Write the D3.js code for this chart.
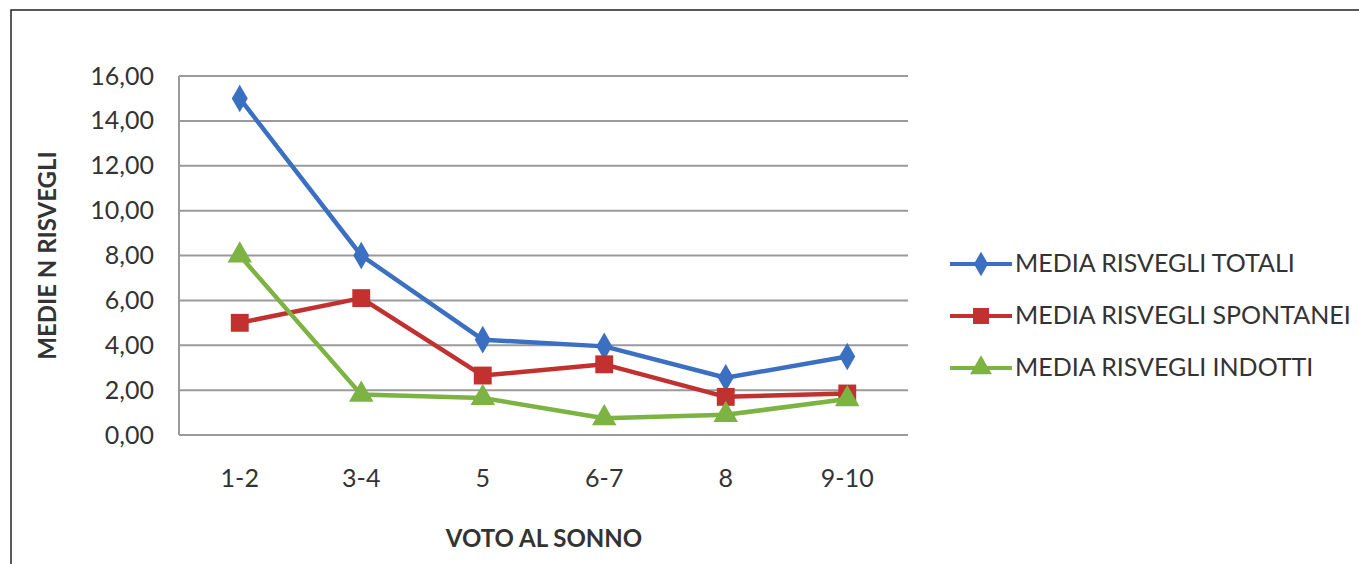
<!DOCTYPE html>
<html><head><meta charset="utf-8">
<script src="https://cdn.jsdelivr.net/npm/d3@7"></script>
<style>body{margin:0;background:#fff}svg{display:block}</style>
</head><body>
<svg id="c" width="1359" height="564"></svg>
<script>
const categories = ["1-2","3-4","5","6-7","8","9-10"];
const totali = [15.0, 8.0, 4.25, 3.95, 2.55, 3.5];
const spontanei = [5.0, 6.1, 2.65, 3.15, 1.7, 1.85];
const indotti = [8.0, 1.8, 1.65, 0.75, 0.9, 1.6];
const yTicks = [0,2,4,6,8,10,12,14,16];
const seriesNames = ["MEDIA RISVEGLI TOTALI","MEDIA RISVEGLI SPONTANEI","MEDIA RISVEGLI INDOTTI"];
const seriesColors = ["#3a6fc2","#c0312f","#7cb342"];
const seriesSymbols = [d3.symbolDiamond, d3.symbolSquare, d3.symbolTriangle];
const yTitle = "MEDIE N RISVEGLI";
const xTitle = "VOTO AL SONNO";

const font = "Lato, 'Open Sans', sans-serif";
const svg = d3.select("#c");
svg.append("rect").attr("x",11).attr("y",10).attr("width",1400).attr("height",600)
  .attr("fill","#fff").attr("stroke","#222").attr("stroke-width",1.5);

const L=179, R=908, T=76, B=435;
const x = d3.scaleBand().domain(categories).range([L,R]);
const y = d3.scaleLinear().domain([0,16]).range([B,T]);

// grid
svg.append("g").selectAll("line").data(yTicks).join("line")
  .attr("x1",L).attr("x2",R).attr("y1",d=>y(d)).attr("y2",d=>y(d))
  .attr("stroke","#9a9a9a").attr("stroke-width",2);
svg.append("line").attr("x1",L).attr("x2",L).attr("y1",T).attr("y2",B)
  .attr("stroke","#9a9a9a").attr("stroke-width",2);

const fmt = d => d3.format(".2f")(d).replace(".",",");
const yAxis = svg.append("g").attr("transform",`translate(${L},0)`)
  .call(d3.axisLeft(y).tickValues(yTicks).tickFormat(fmt).tickSize(0).tickPadding(25));
yAxis.select(".domain").remove();
yAxis.selectAll("text").attr("font-family",font).attr("font-size",25).attr("fill","#333");

const xAxis = svg.append("g").attr("transform",`translate(0,${B})`)
  .call(d3.axisBottom(x).tickSize(0).tickPadding(34));
xAxis.select(".domain").remove();
xAxis.selectAll("text").attr("font-family",font).attr("font-size",25).attr("fill","#333");

svg.append("text").attr("transform",`translate(56,${(T+B)/2}) rotate(-90)`)
  .attr("text-anchor","middle").attr("font-family",font).attr("font-weight","bold")
  .attr("font-size",24).attr("fill","#333").text(yTitle);
svg.append("text").attr("x",544).attr("y",547).attr("text-anchor","middle")
  .attr("font-family",font).attr("font-weight","bold").attr("font-size",24)
  .attr("fill","#333").text(xTitle);

const data = [totali, spontanei, indotti];
const line = d3.line().x((d,i)=>x(categories[i])+x.bandwidth()/2).y(d=>y(d));
const sizes = [220, 320, 260];
data.forEach((vals,k)=>{
  const g = svg.append("g");
  g.append("path").attr("d",line(vals)).attr("fill","none")
    .attr("stroke",seriesColors[k]).attr("stroke-width",4.5).attr("stroke-linejoin","round");
  g.selectAll("path.m").data(vals).join("path").attr("class","m")
    .attr("transform",(d,i)=>`translate(${x(categories[i])+x.bandwidth()/2},${y(d)})`)
    .attr("d",d3.symbol().type(seriesSymbols[k]).size(sizes[k]))
    .attr("fill",seriesColors[k]);
});

// legend
const lg = svg.append("g");
seriesNames.forEach((n,k)=>{
  const yy = 264 + k*52;
  lg.append("line").attr("x1",950).attr("x2",1012).attr("y1",yy).attr("y2",yy)
    .attr("stroke",seriesColors[k]).attr("stroke-width",4);
  lg.append("path").attr("transform",`translate(981,${yy})`)
    .attr("d",d3.symbol().type(seriesSymbols[k]).size(sizes[k]*0.8)).attr("fill",seriesColors[k]);
  lg.append("text").attr("x",1015).attr("y",yy+8).attr("font-family",font)
    .attr("font-size",25).attr("fill","#333").text(n);
});
</script>
</body></html>
